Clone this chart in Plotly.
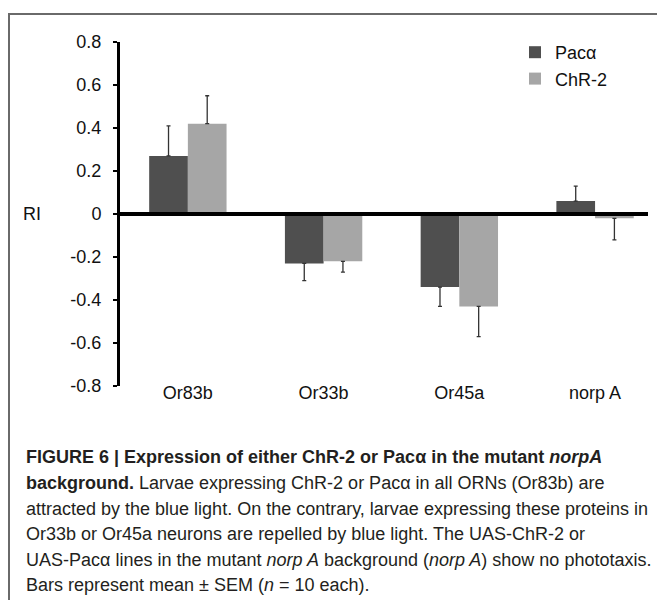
import plotly.graph_objects as go

categories = ["Or83b", "Or33b", "Or45a", "norp A"]
paca_values = [0.27, -0.23, -0.34, 0.06]
paca_sem = [0.14, 0.08, 0.09, 0.07]
chr2_values = [0.42, -0.22, -0.43, -0.02]
chr2_sem = [0.13, 0.05, 0.14, 0.10]
series_names = ["Pacα", "ChR-2"]
y_tickvals = [0.8, 0.6, 0.4, 0.2, 0, -0.2, -0.4, -0.6, -0.8]
y_ticktext = ["0.8", "0.6", "0.4", "0.2", "0", "-0.2", "-0.4", "-0.6", "-0.8"]

caption_lines = [
    "<b>FIGURE 6 | Expression of either ChR-2 or Pacα in the mutant <i>norpA</i></b>",
    "<b>background.</b> Larvae expressing ChR-2 or Pacα in all ORNs (Or83b) are",
    "attracted by the blue light. On the contrary, larvae expressing these proteins in",
    "Or33b or Or45a neurons are repelled by blue light. The UAS-ChR-2 or",
    "UAS-Pacα lines in the mutant <i>norp A</i> background (<i>norp A</i>) show no phototaxis.",
    "Bars represent mean ± SEM (<i>n</i> = 10 each).",
]

W, H = 657, 600
L, R, T, B = 120, 9, 42, 214
PW, PH = W - L - R, H - T - B


def px_x(x):
    return (x - L) / PW


def px_y(y):
    return (H - B - y) / PH


def err(vals, sem):
    plus = [s if v >= 0 else 0 for v, s in zip(vals, sem)]
    minus = [s if v < 0 else 0 for v, s in zip(vals, sem)]
    return plus, minus


fig = go.Figure()
for name, vals, sem, color in [
    (series_names[0], paca_values, paca_sem, "#4f4f4f"),
    (series_names[1], chr2_values, chr2_sem, "#a6a6a6"),
]:
    plus, minus = err(vals, sem)
    fig.add_trace(go.Bar(
        x=categories, y=vals, name=name,
        marker=dict(color=color, line=dict(width=0)),
        error_y=dict(type="data", symmetric=False, array=plus, arrayminus=minus,
                     color="#333333", thickness=1.3, width=2),
    ))

font_main = "Liberation Sans, Arial, sans-serif"
fig.update_layout(
    width=W, height=H,
    margin=dict(l=L, r=R, t=T, b=B, autoexpand=False),
    paper_bgcolor="white", plot_bgcolor="white",
    barmode="group", bargap=0.43, bargroupgap=0,
    font=dict(family=font_main, size=18, color="#111111"),
    xaxis=dict(range=[-0.5, 3.39], showline=False, showgrid=False, zeroline=False,
               ticks="", tickfont=dict(size=18, color="#111111"), ticklabelstandoff=-6),
    yaxis=dict(range=[-0.8, 0.8], tickvals=y_tickvals, ticktext=y_ticktext,
               showline=True, linecolor="black", linewidth=3, showgrid=False,
               zeroline=False, ticks="outside", ticklen=4, tickwidth=2, tickcolor="black",
               ticklabelstandoff=8, tickfont=dict(size=18, color="#111111")),
    legend=dict(x=px_x(515), y=px_y(34), xanchor="left", yanchor="top",
                bgcolor="rgba(0,0,0,0)", font=dict(size=18, color="#111111"),
                itemwidth=30, tracegroupgap=0),
    showlegend=True,
)

fig.add_shape(type="line", xref="paper", yref="y", x0=0, x1=px_x(648), y0=0, y1=0,
              line=dict(color="black", width=4), layer="above")
fig.add_shape(type="rect", xref="paper", yref="paper", x0=px_x(9), y0=px_y(640),
              x1=px_x(720), y1=px_y(14), line=dict(color="#6a6a6a", width=2),
              fillcolor="rgba(0,0,0,0)", layer="below")

fig.add_annotation(text="RI", xref="paper", yref="y", x=px_x(32), y=0, xanchor="center",
                   yanchor="middle", showarrow=False, font=dict(size=18, color="#111111"))

cap_y = [457, 483, 509, 534, 560, 585]
for line, y in zip(caption_lines, cap_y):
    fig.add_annotation(text=line, xref="paper", yref="paper", x=px_x(24), y=px_y(y),
                       xanchor="left", yanchor="middle", showarrow=False,
                       font=dict(family="Liberation Sans, Arial, sans-serif",
                                 size=18, color="#231f20"))

fig.write_html("out.html", config={"displayModeBar": False},
               post_script="document.body.style.margin='0';")
